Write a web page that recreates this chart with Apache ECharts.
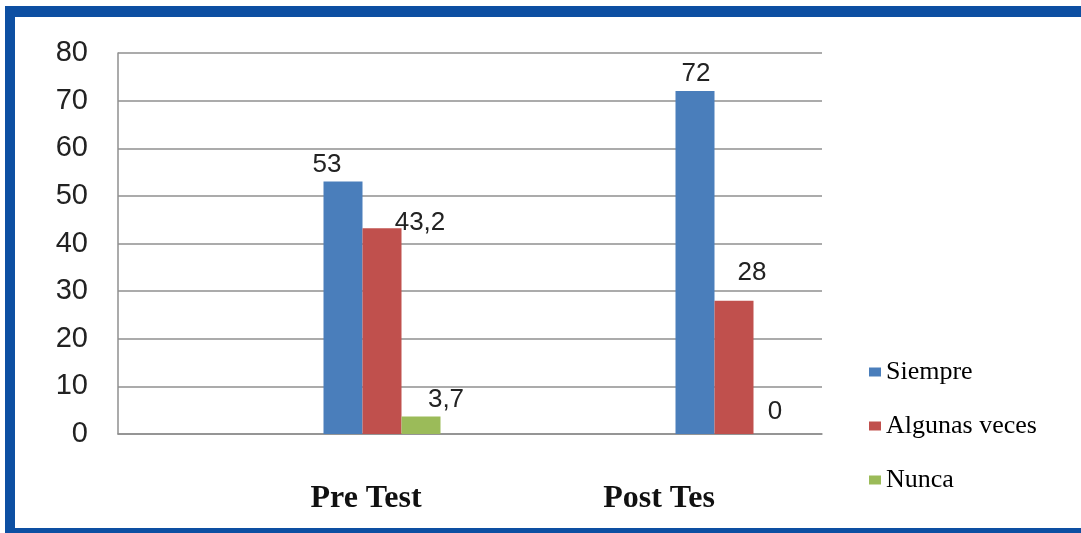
<!DOCTYPE html>
<html>
<head>
<meta charset="utf-8">
<script src="https://cdn.jsdelivr.net/npm/echarts@6/dist/echarts.min.js"></script>
<style>
  html, body { margin: 0; padding: 0; background: #fff; }
  #chart { width: 1081px; height: 533px; }
  #frame {
    position: absolute; left: 5px; top: 6px; width: 1090px; height: 511px;
    border-left: 10px solid #0d4fa2; border-top: 11px solid #0d4fa2; border-bottom: 6px solid #0d4fa2;
    pointer-events: none;
  }
</style>
</head>
<body>
<div id="chart"></div>
<div id="frame"></div>
<script>
// categorías (las vacías reproducen el hueco a la izquierda de cada grupo)
const categorias = ["", "Pre Test", "", "Post Tes"];
const siempre = [null, 53, null, 72];
const algunasVeces = [null, 43.2, null, 28];
const nunca = [null, 3.7, null, 0];
const yTicks = [0, 10, 20, 30, 40, 50, 60, 70, 80];

const COLORS = { Siempre: "#4a7ebb", "Algunas veces": "#c0504d", Nunca: "#9bbb59" };

// desplazamiento de cada etiqueta [dx, dy] por índice de categoría
const SHIFT = {
  Siempre: { 1: [-16, 0], 3: [1, 0] },
  "Algunas veces": { 1: [38, 12], 3: [18, -11] },
  Nunca: { 1: [25, 0], 3: [2, -5] },
};

function serie(name, values) {
  return {
    name, type: "bar", barWidth: 39, barGap: "0%",
    itemStyle: { color: COLORS[name] },
    data: values.map((v, i) => v == null ? null : {
      value: v,
      label: { offset: SHIFT[name][i] || [0, 0] },
    }),
    label: {
      show: true, position: "top", distance: 4,
      fontFamily: "Liberation Sans", fontSize: 26, color: "#222",
      formatter: (p) => String(p.value).replace(".", ","),
    },
  };
}

const chart = echarts.init(document.getElementById("chart"));
chart.setOption({
  animation: false,
  backgroundColor: "#fff",
  grid: { left: 118, right: 259, top: 53, bottom: 99 },
  legend: {
    orient: "vertical", left: 864, top: 354,
    itemWidth: 12, itemHeight: 9, itemGap: 28, icon: "rect",
    textStyle: { fontFamily: "Liberation Serif", fontSize: 26, color: "#000", padding: [0, 0, 0, 0] },
    data: ["Siempre", "Algunas veces", "Nunca"],
  },
  xAxis: {
    type: "category",
    data: categorias.map((c, i) => ({
      value: c,
      textStyle: { padding: i === 1 ? [0, 32, 0, 0] : i === 3 ? [0, 150, 0, 0] : 0 },
    })),
    axisLine: { lineStyle: { color: "#8f8f8f", width: 1.5 } },
    axisTick: { show: false },
    axisLabel: {
      interval: 0, margin: 49,
      fontFamily: "Liberation Serif", fontWeight: "bold", fontSize: 32, color: "#111",
    },
  },
  yAxis: {
    type: "value", min: yTicks[0], max: yTicks[yTicks.length - 1], interval: 10,
    axisLine: { show: true, lineStyle: { color: "#8f8f8f", width: 1.5 } },
    axisTick: { show: false },
    axisLabel: { margin: 30, fontFamily: "Liberation Sans", fontSize: 29, color: "#222" },
    splitLine: { lineStyle: { color: "#8f8f8f", width: 1.5 } },
  },
  series: [
    serie("Siempre", siempre),
    serie("Algunas veces", algunasVeces),
    serie("Nunca", nunca),
  ],
});
</script>
</body>
</html>
